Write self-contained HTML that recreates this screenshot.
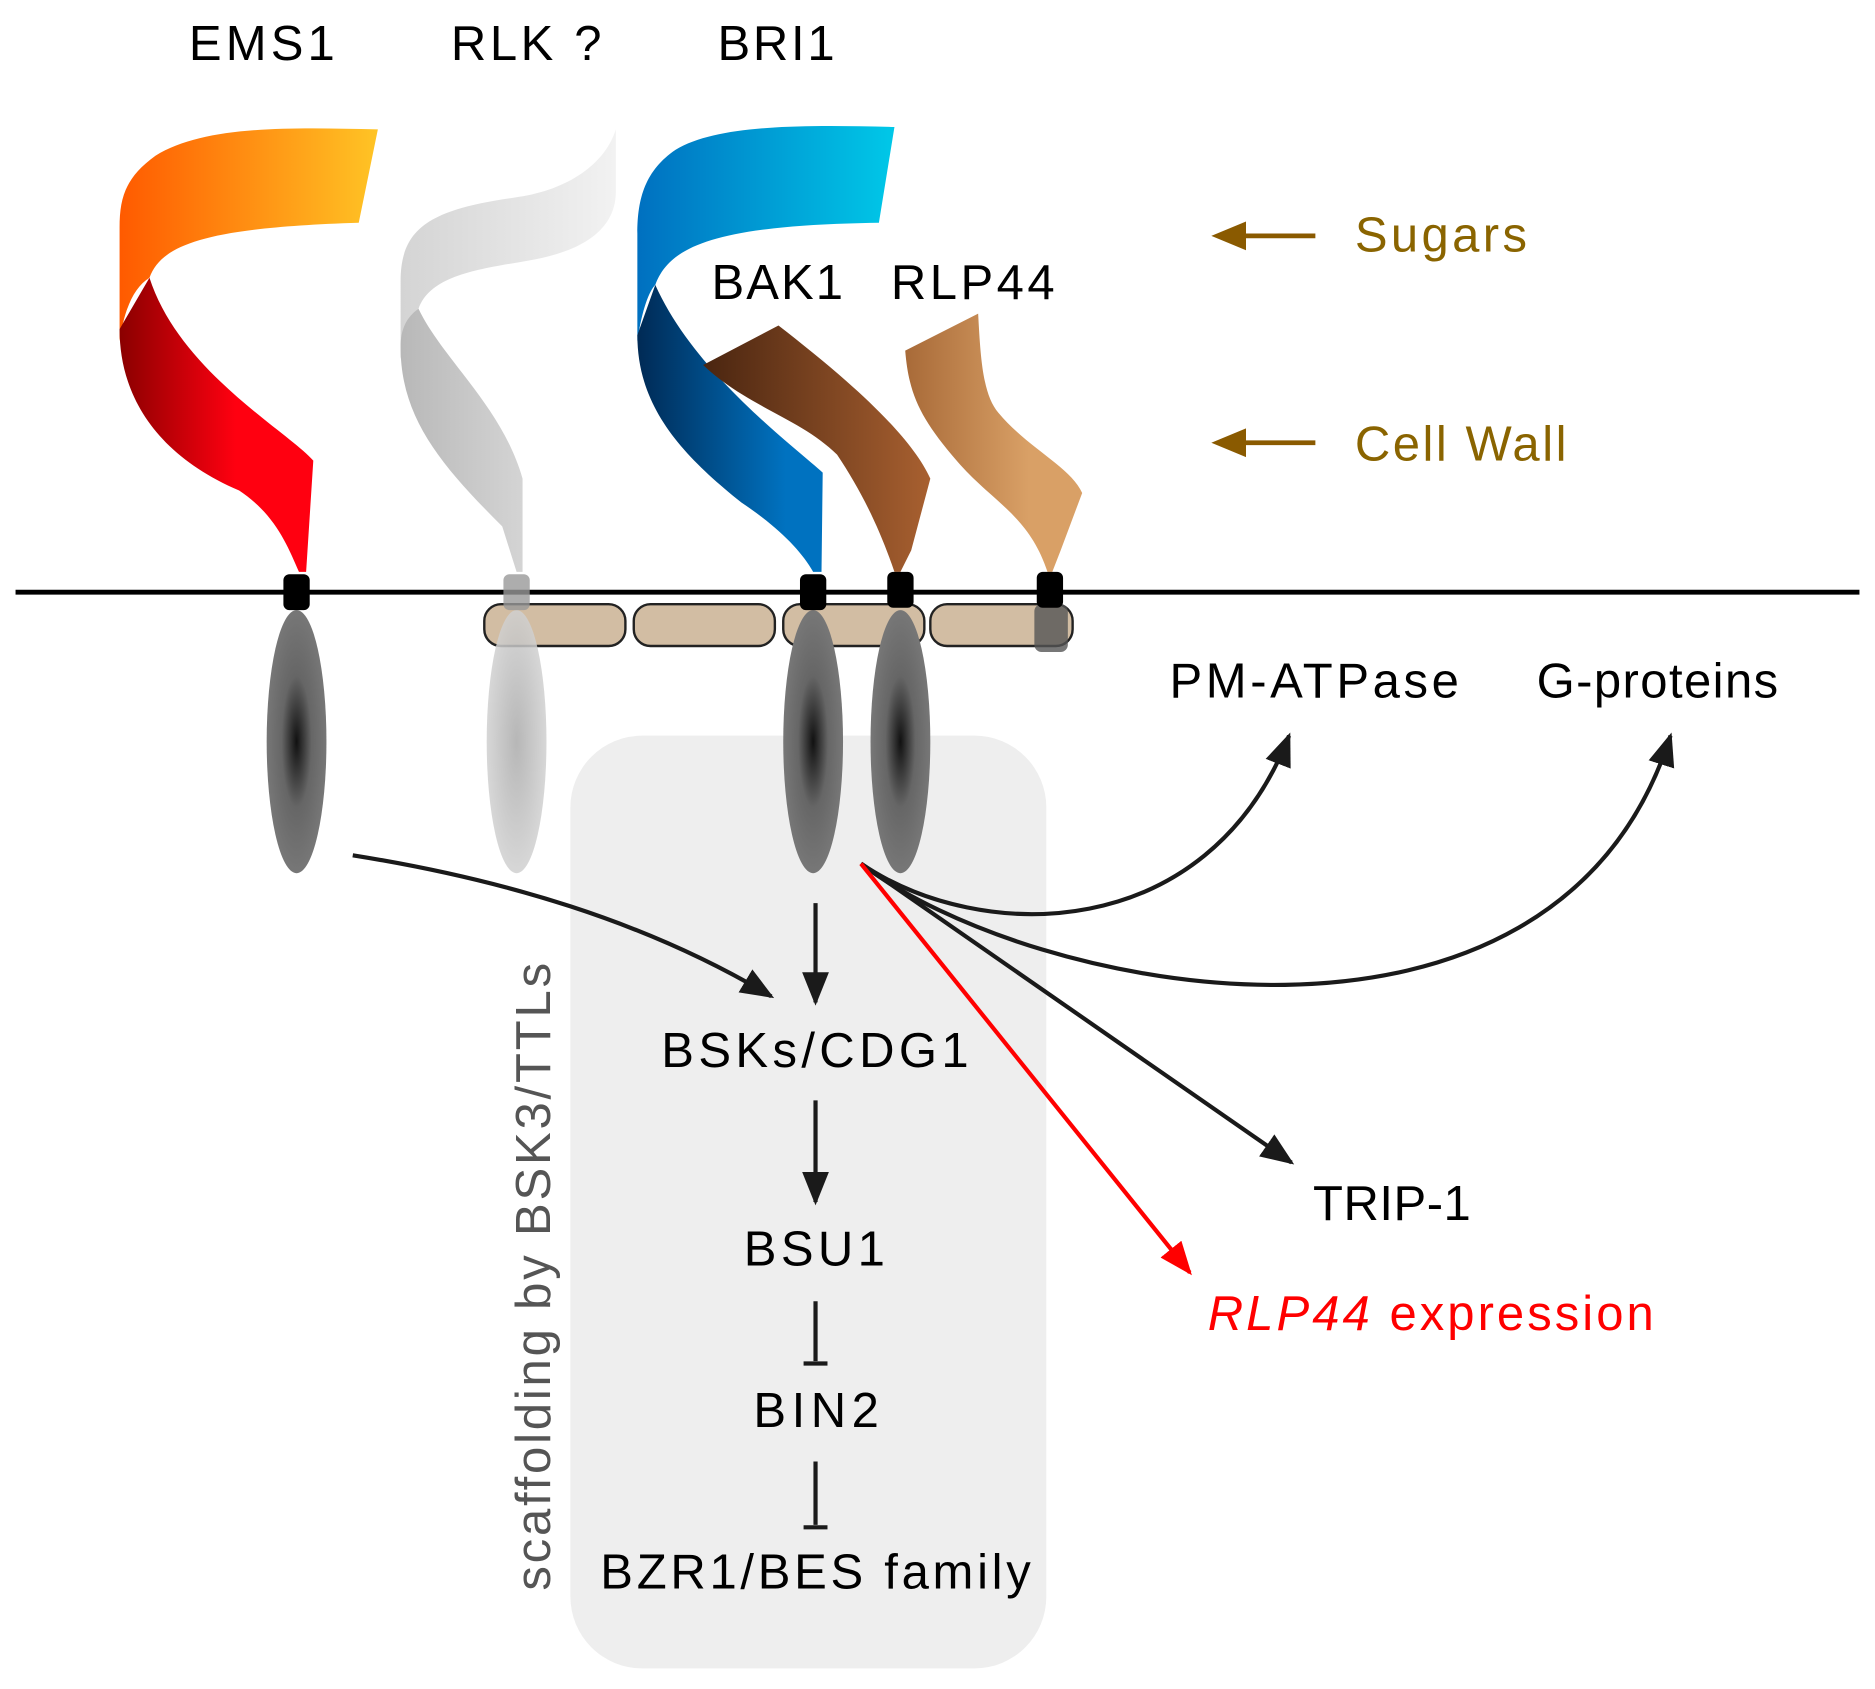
<!DOCTYPE html>
<html><head><meta charset="utf-8"><style>html,body{margin:0;padding:0;background:#fff}svg{display:block}</style></head><body>
<svg width="1875" height="1689" viewBox="0 0 1568 1412" xmlns="http://www.w3.org/2000/svg" font-family="Liberation Sans, sans-serif">
<defs>
<linearGradient id="or" x1="0" x2="1"><stop offset="0" stop-color="#ff5a00"/><stop offset="1" stop-color="#ffc425"/></linearGradient>
<linearGradient id="rd" x1="0" x2="1"><stop offset="0" stop-color="#8a0000"/><stop offset="0.6" stop-color="#ff0010"/></linearGradient>
<linearGradient id="gy1" x1="0" x2="1"><stop offset="0" stop-color="#d4d4d4"/><stop offset="1" stop-color="#f2f2f2"/></linearGradient>
<linearGradient id="gy2" x1="0" x2="1"><stop offset="0" stop-color="#b8b8b8"/><stop offset="1" stop-color="#d4d4d4"/></linearGradient>
<linearGradient id="bl1" x1="0" x2="1"><stop offset="0" stop-color="#0070c0"/><stop offset="1" stop-color="#00c8e8"/></linearGradient>
<linearGradient id="bl2" x1="0" x2="1"><stop offset="0" stop-color="#002a55"/><stop offset="0.8" stop-color="#0072c0"/></linearGradient>
<linearGradient id="br1" x1="0" x2="1"><stop offset="0" stop-color="#4a2510"/><stop offset="1" stop-color="#a86030"/></linearGradient>
<linearGradient id="br2" x1="0" x2="1"><stop offset="0" stop-color="#a86a38"/><stop offset="0.7" stop-color="#d9a066"/></linearGradient>
<radialGradient id="kn" cx="0.5" cy="0.5" r="0.5"><stop offset="0" stop-color="#111"/><stop offset="0.5" stop-color="#666"/><stop offset="1" stop-color="#777"/></radialGradient>
<radialGradient id="kg" cx="0.5" cy="0.5" r="0.5"><stop offset="0" stop-color="#aaa"/><stop offset="1" stop-color="#d0d0d0"/></radialGradient>
<marker id="ahb" viewBox="0 0 10 10" refX="9" refY="5" markerWidth="28" markerHeight="28" markerUnits="userSpaceOnUse" orient="auto"><path d="M0,1L10,5L0,9z" fill="#1a1a1a"/></marker>
<marker id="ahr" viewBox="0 0 10 10" refX="9" refY="5" markerWidth="28" markerHeight="28" markerUnits="userSpaceOnUse" orient="auto"><path d="M0,1L10,5L0,9z" fill="#ff0000"/></marker>
</defs>

<rect x="477" y="615" width="398" height="780" rx="60" fill="#eeeeee"/>

<path d="M316,108 C240,106 170,105 130,130 C105,148 100,165 100,190 L100,285 C104,258 112,240 125,232 C135,205 170,190 300,186 Z" fill="url(#or)"/>
<path d="M100,275 C100,330 130,380 200,410 C230,430 240,455 250,478 L256,478 L262,385 C240,360 150,310 125,232 Z" fill="url(#rd)"/>
<path d="M515,108 C505,140 470,160 430,165 C360,175 335,190 335,235 L335,300 C340,275 345,265 350,258 C360,230 400,225 440,218 C490,210 515,190 515,160 Z" fill="url(#gy1)"/>
<path d="M335,290 C335,350 370,390 420,440 L432,478 L437,478 L437,400 C420,340 370,300 350,258 C340,265 335,275 335,290 Z" fill="url(#gy2)"/>
<path d="M748,106 C670,104 600,104 565,125 C540,142 533,165 533,195 L533,285 C537,258 543,243 548,238 C560,205 600,188 735,186 Z" fill="url(#bl1)"/>
<path d="M533,280 C533,340 570,380 620,420 C650,440 670,460 680,478 L687,478 L688,395 C660,370 580,310 548,238 Z" fill="url(#bl2)"/>
<path d="M588,305 L651,272 C700,310 760,360 778,400 L762,460 L753,478 L748,478 C735,440 720,410 700,380 C670,350 625,340 588,305 Z" fill="url(#br1)"/>
<path d="M757,293 L818,262 C820,300 822,330 835,345 C860,375 895,390 905,412 L887,460 L880,478 L876,478 C860,430 830,420 800,385 C770,350 760,330 757,293 Z" fill="url(#br2)"/>

<line x1="13" y1="495" x2="1555" y2="495" stroke="#000" stroke-width="4"/>
<g fill="#d2bda3" stroke="#222" stroke-width="2">
<rect x="405" y="505" width="118" height="35" rx="14"/>
<rect x="530" y="505" width="118" height="35" rx="14"/>
<rect x="655" y="505" width="118" height="35" rx="14"/>
<rect x="778" y="505" width="119" height="35" rx="14"/>
</g>
<ellipse cx="248" cy="620" rx="25" ry="110" fill="url(#kn)"/>
<ellipse cx="432" cy="620" rx="25" ry="110" fill="url(#kg)" opacity="0.85"/>
<ellipse cx="680" cy="620" rx="25" ry="110" fill="url(#kn)"/>
<ellipse cx="753" cy="620" rx="25" ry="110" fill="url(#kn)"/>
<rect x="865" y="505" width="28" height="40" rx="6" fill="#555" opacity="0.8"/>
<g fill="#000">
<rect x="237" y="480" width="22" height="30" rx="5"/>
<rect x="669" y="480" width="22" height="30" rx="5"/>
<rect x="742" y="478" width="22" height="30" rx="5"/>
<rect x="867" y="478" width="22" height="30" rx="5"/>
</g>
<rect x="421" y="480" width="22" height="30" rx="5" fill="#999" opacity="0.8"/>

<g font-size="41" fill="#000" lengthAdjust="spacingAndGlyphs">
<text x="158" y="50" textLength="122">EMS1</text>
<text x="377" y="50" textLength="126">RLK ?</text>
<text x="600" y="50" textLength="98">BRI1</text>
<text x="595" y="250" textLength="110">BAK1</text>
<text x="745" y="250" textLength="137">RLP44</text>
<text x="978" y="583" textLength="242">PM-ATPase</text>
<text x="1285" y="583" textLength="202">G-proteins</text>
<text x="553" y="892" textLength="257">BSKs/CDG1</text>
<text x="622" y="1058" textLength="118">BSU1</text>
<text x="630" y="1193" textLength="105">BIN2</text>
<text x="502" y="1328" textLength="360">BZR1/BES family</text>
<text x="1098" y="1020" textLength="132">TRIP-1</text>
<text x="1010" y="1112" fill="#ff0000" textLength="373"><tspan font-style="italic">RLP44</tspan> expression</text>
<text x="1133" y="210" fill="#8a6400" textLength="144">Sugars</text>
<text x="1133" y="385" fill="#8a6400" textLength="177">Cell Wall</text>
<text transform="translate(460,1330) rotate(-90)" fill="#555" textLength="525">scaffolding by BSK3/TTLs</text>
</g>

<line x1="1100" y1="197" x2="1038" y2="197" stroke="#8a5a00" stroke-width="4"/>
<polygon points="1013,197 1042,185 1042,209" fill="#8a5a00"/>
<line x1="1100" y1="370" x2="1038" y2="370" stroke="#8a5a00" stroke-width="4"/>
<polygon points="1013,370 1042,358 1042,382" fill="#8a5a00"/>

<g stroke="#1a1a1a" stroke-width="3.5" fill="none">
<line x1="682" y1="755" x2="682" y2="838" marker-end="url(#ahb)"/>
<line x1="682" y1="920" x2="682" y2="1005" marker-end="url(#ahb)"/>
<line x1="682" y1="1088" x2="682" y2="1138"/>
<line x1="672" y1="1140" x2="692" y2="1140"/>
<line x1="682" y1="1222" x2="682" y2="1275"/>
<line x1="672" y1="1277" x2="692" y2="1277"/>
<path d="M295,715 C420,735 540,770 645,833" marker-end="url(#ahb)"/>
<path d="M720,722 C820,790 1010,790 1078,615" marker-end="url(#ahb)"/>
<path d="M720,722 C860,830 1300,920 1397,615" marker-end="url(#ahb)"/>
<path d="M720,722 L1080,972" marker-end="url(#ahb)"/>
</g>
<line x1="720" y1="722" x2="995" y2="1064" stroke="#ff0000" stroke-width="3.5" marker-end="url(#ahr)"/>
</svg>
</body></html>
